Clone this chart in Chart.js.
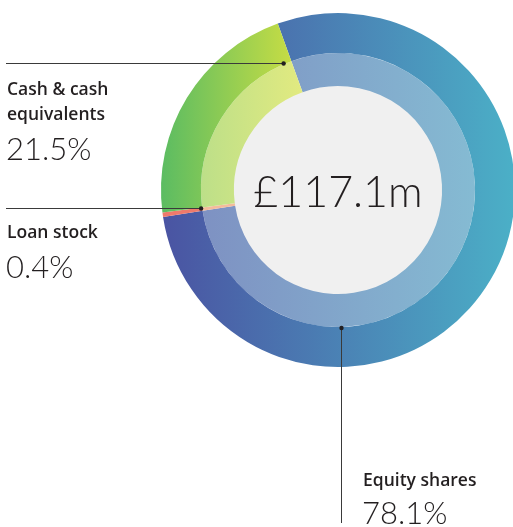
<!DOCTYPE html>
<html>
<head>
<meta charset="utf-8">
<script src="https://cdn.jsdelivr.net/npm/chart.js@4"></script>
<style>
  html, body { margin: 0; padding: 0; background: #fff; overflow: hidden; }
  #wrap { position: relative; width: 513px; height: 527px; overflow: hidden; }
  #chart { position: absolute; left: 0; top: 0; }
  .lbl { position: absolute; color: #231f20; white-space: nowrap; }
  .name { font-family: "Open Sans", sans-serif; font-weight: 600; font-size: 17.5px; line-height: 25px; }
  .pct { font-family: Lato, sans-serif; font-weight: 300; font-size: 31px; line-height: 1; }
  #total { position: absolute; left: 238px; width: 200px; text-align: center; top: 169px;
           font-family: Lato, sans-serif; font-weight: 300; font-size: 43px; line-height: 1; color: #231f20; }
</style>
</head>
<body>
<div id="wrap">
  <canvas id="chart" width="520" height="527"></canvas>
  <div id="total"></div>
  <div class="lbl name" id="name0" style="left:363px; top:467px;"></div>
  <div class="lbl pct" id="pct0" style="left:362px; top:497px;"></div>
  <div class="lbl name" id="name1" style="left:7px; top:219px;"></div>
  <div class="lbl pct" id="pct1" style="left:6px; top:251px;"></div>
  <div class="lbl name" id="name2" style="left:7px; top:76px; width:140px; white-space:normal;"></div>
  <div class="lbl pct" id="pct2" style="left:6px; top:133px;"></div>
</div>
<script>
// data
const categories = ['Equity shares', 'Loan stock', 'Cash & cash equivalents'];
const shares = [78.1, 0.4, 21.5];
const totalLabel = '£117.1m';

// colours: [left, right] for the outer ring and the lighter inner ring
const outerColors = [['#4a53a2', '#4bb0c7'], ['#ee7a6c', '#ee7a6c'], ['#5bbc62', '#cfdf42']];
const innerColors = [['#7d8bc0', '#86c1d5'], ['#f4bb9c', '#f4bb9c'], ['#aedb8c', '#e2ea80']];

categories.forEach((c, i) => {
    document.getElementById('name' + i).textContent = c;
    document.getElementById('pct' + i).textContent = shares[i] + '%';
});
document.getElementById('total').textContent = totalLabel;

function makeFill(colors) {
    return function (context) {
        const chart = context.chart;
        const area = chart.chartArea;
        if (!area) return colors[context.dataIndex][0];
        const pair = colors[context.dataIndex];
        // the cash slice only spans the left part of the circle
        const x1 = context.dataIndex === 2 ? area.left + area.width * 0.4 : area.right;
        const g = chart.ctx.createLinearGradient(area.left, 0, x1, 0);
        g.addColorStop(0, pair[0]);
        g.addColorStop(1, pair[1]);
        return g;
    };
}

// grey centre disc drawn under the rings
const centreDisc = {
    id: 'centreDisc',
    beforeDatasetsDraw(chart) {
        const arc = chart.getDatasetMeta(1).data[0];
        if (!arc) return;
        const ctx = chart.ctx;
        ctx.save();
        ctx.fillStyle = '#f0f0f0';
        ctx.beginPath();
        ctx.arc(arc.x, arc.y, arc.innerRadius + 1, 0, Math.PI * 2);
        ctx.fill();
        ctx.restore();
    }
};

// leader lines from each slice to its label
const leaders = {
    id: 'leaders',
    afterDatasetsDraw(chart) {
        const arc = chart.getDatasetMeta(0).data[0];
        if (!arc) return;
        const cx = arc.x, cy = arc.y, r = arc.innerRadius + 1;
        const pt = deg => {
            const a = (deg - 90) * Math.PI / 180;
            return [cx + r * Math.cos(a), cy + r * Math.sin(a)];
        };
        const ctx = chart.ctx;
        ctx.save();
        ctx.strokeStyle = '#3a3a3a';
        ctx.fillStyle = '#231f20';
        ctx.lineWidth = 1;
        const dot = (x, y) => { ctx.beginPath(); ctx.arc(x, y, 2.2, 0, Math.PI * 2); ctx.fill(); };

        // cash
        let [x, y] = pt(-23.2);
        y = Math.round(y) + 0.5;
        ctx.beginPath(); ctx.moveTo(6, y); ctx.lineTo(x, y); ctx.stroke();
        dot(x, y);

        // loan stock
        [x, y] = pt(262.6);
        y = Math.round(y) + 0.5;
        ctx.beginPath(); ctx.moveTo(6, y); ctx.lineTo(x, y); ctx.stroke();
        dot(x, y);

        // equity
        [x, y] = pt(178.8);
        x = Math.round(x) + 0.5;
        ctx.beginPath(); ctx.moveTo(x, y); ctx.lineTo(x, 523); ctx.stroke();
        dot(x, y);
        ctx.restore();
    }
};

new Chart(document.getElementById('chart').getContext('2d'), {
    type: 'doughnut',
    data: {
        labels: categories,
        datasets: [{
            data: shares,
            backgroundColor: makeFill(outerColors),
            borderWidth: 0,
            weight: 40
        }, {
            data: shares,
            backgroundColor: makeFill(innerColors),
            borderWidth: 0,
            weight: 33
        }]
    },
    options: {
        responsive: false,
        animation: false,
        rotation: -19.9,
        cutout: '58.8%',
        layout: { padding: { left: 161, right: 5, top: 13, bottom: 160 } },
        plugins: {
            legend: { display: false },
            tooltip: { enabled: false }
        }
    },
    plugins: [centreDisc, leaders]
});
</script>
</body>
</html>
